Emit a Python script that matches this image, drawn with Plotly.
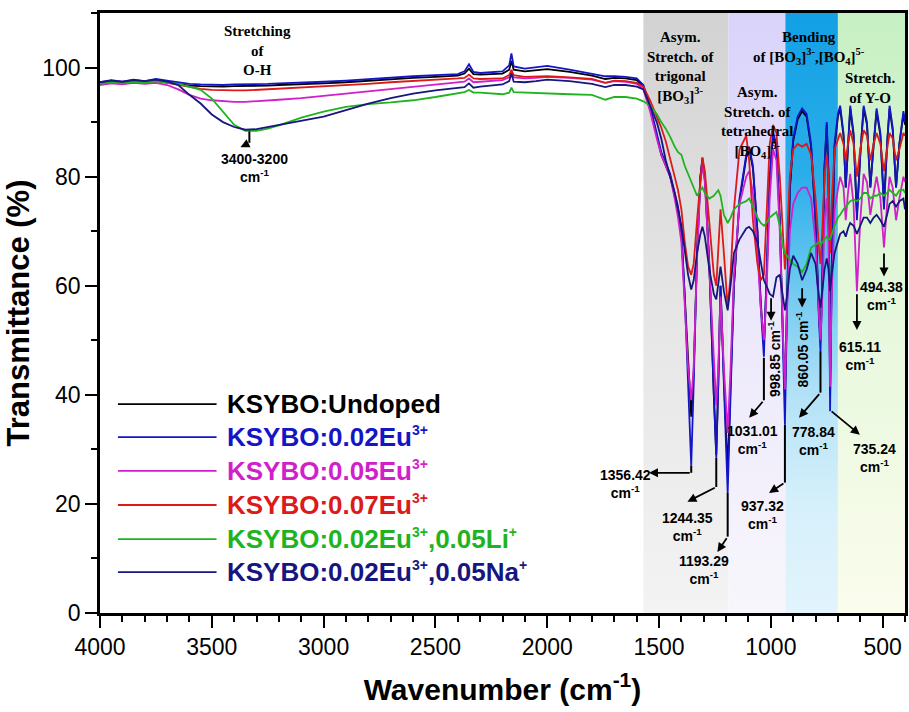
import plotly.graph_objects as go

# Wavenumber grid (cm^-1): OH / overtone region, then the borate fingerprint region
wn_high = [4000, 3950, 3900, 3850, 3800, 3750, 3700, 3650, 3600, 3550,
           3500, 3450, 3400, 3350, 3300, 3250, 3200, 3100, 3000, 2900,
           2800, 2700, 2600, 2500, 2400, 2370, 2350, 2330, 2300, 2200,
           2170, 2160, 2150, 2100, 2050, 2000, 1900, 1800, 1740, 1700,
           1650, 1600]
wn_fp = [1570, 1540, 1510, 1490, 1470, 1450, 1430, 1415, 1400, 1385,
         1370, 1356, 1345, 1330, 1315, 1306, 1295, 1275, 1255, 1244,
         1235, 1225, 1210, 1193, 1180, 1165, 1140, 1110, 1097, 1080,
         1060, 1045, 1031, 1020, 1005, 990, 975, 960, 945, 937,
         928, 915, 900, 880, 860, 840, 820, 800, 785, 778,
         770, 760, 750, 742, 735, 728, 715, 700, 690, 675,
         665, 655, 645, 630, 615, 600, 585, 570, 555, 540,
         527, 510, 494, 480, 469, 455, 440, 425, 407, 400]
wavenumber = wn_high + wn_fp

# Transmittance (%) for each sample
undoped = [97.0, 97.4, 97.1, 97.5, 97.2, 97.6, 97.3, 97.0, 96.7, 96.6,
           96.5, 96.5, 96.6, 96.6, 96.6, 96.7, 96.8, 96.9, 97.1, 97.3,
           97.6, 97.8, 98.1, 98.3, 98.5, 98.9, 99.8, 98.8, 98.7, 98.9,
           99.6, 101.2, 99.6, 99.3, 99.5, 99.7, 99.2, 98.5, 97.9, 98.1,
           98.0, 97.7] + \
          [96.5, 92.5, 87.5, 84.0, 82.0, 80.0, 76.5, 74.0, 69.5, 58.0,
           45.0, 36.0, 44.0, 66.0, 80.0, 83.0, 79.5, 63.5, 40.0, 29.0,
           42.0, 60.0, 43.0, 26.0, 42.0, 60.0, 75.5, 83.5, 85.0, 81.5,
           70.0, 57.0, 49.0, 60.0, 79.5, 87.5, 85.5, 72.0, 50.0, 40.0,
           56.0, 77.5, 86.5, 90.5, 92.0, 91.0, 85.5, 72.0, 55.0, 50.0,
           61.0, 81.5, 89.5, 80.0, 40.0, 63.0, 85.5, 91.0, 92.5, 87.5,
           78.0, 86.0, 92.5, 87.5, 73.0, 84.0, 92.5, 89.5, 78.0, 86.0,
           92.0, 87.5, 75.0, 86.0, 92.5, 88.5, 78.0, 86.0, 91.5, 89.5]

eu002 = [97.3, 97.7, 97.4, 97.8, 97.5, 97.9, 97.6, 97.3, 97.0, 96.9,
         96.8, 96.8, 96.9, 96.9, 96.9, 97.0, 97.1, 97.2, 97.4, 97.6,
         97.9, 98.1, 98.4, 98.6, 98.8, 99.3, 100.6, 99.2, 99.0, 99.3,
         100.4, 102.6, 100.2, 99.8, 100.1, 100.3, 99.6, 98.9, 98.4, 98.4,
         98.3, 98.0] + \
        [96.8, 93.0, 88.0, 84.5, 82.5, 80.5, 77.0, 74.5, 70.0, 58.0,
         42.0, 27.0, 42.0, 66.0, 80.0, 83.5, 80.0, 64.0, 40.0, 28.5,
         42.0, 60.0, 42.0, 22.0, 40.0, 60.0, 76.0, 84.0, 85.5, 82.0,
         70.0, 56.0, 47.0, 60.0, 80.0, 88.0, 86.0, 72.0, 48.0, 34.5,
         55.0, 78.0, 87.0, 91.0, 92.5, 91.5, 86.0, 72.0, 54.0, 48.0,
         60.0, 82.0, 90.0, 80.0, 37.0, 62.0, 86.0, 91.5, 93.0, 88.0,
         78.0, 86.0, 93.0, 88.0, 72.0, 84.0, 93.0, 90.0, 78.0, 86.0,
         92.5, 88.0, 74.0, 86.0, 93.0, 89.0, 78.0, 86.0, 92.0, 90.0]

eu005 = [96.8, 97.1, 96.9, 97.2, 97.0, 97.2, 96.8, 96.0, 95.0, 94.3,
         94.0, 93.8, 93.7, 93.7, 93.8, 93.9, 94.1, 94.4, 94.8, 95.3,
         95.7, 96.1, 96.5, 96.9, 97.3, 97.4, 98.0, 97.3, 97.4, 97.7,
         98.2, 99.1, 98.2, 98.0, 98.1, 98.3, 98.1, 97.8, 97.2, 97.5,
         97.4, 97.0] + \
        [96.0, 92.0, 87.0, 84.0, 82.0, 80.0, 76.0, 72.5, 68.0, 57.0,
         45.0, 39.0, 45.0, 65.0, 79.0, 82.0, 79.0, 63.0, 45.0, 38.0,
         45.0, 58.0, 45.0, 33.0, 45.0, 62.0, 75.0, 80.0, 81.0, 77.0,
         66.0, 56.0, 50.0, 58.0, 76.0, 85.0, 83.0, 70.0, 50.0, 41.0,
         55.0, 70.0, 75.0, 77.0, 78.0, 78.0, 76.0, 68.0, 55.0, 50.0,
         58.0, 72.0, 76.0, 68.0, 41.5, 58.0, 74.0, 78.0, 80.0, 78.0,
         72.0, 77.0, 80.5, 75.0, 59.0, 72.0, 80.5, 79.0, 73.0, 77.0,
         80.0, 76.0, 67.0, 75.0, 80.0, 78.0, 72.0, 76.0, 80.0, 79.0]

eu007 = [97.1, 97.4, 97.2, 97.5, 97.3, 97.5, 97.2, 96.8, 96.4, 96.1,
         95.9, 95.8, 95.8, 95.8, 95.9, 96.0, 96.1, 96.4, 96.6, 96.8,
         97.0, 97.3, 97.5, 97.8, 98.0, 98.1, 98.7, 98.0, 97.9, 98.0,
         98.6, 99.6, 98.6, 98.3, 98.3, 98.4, 98.2, 97.9, 97.2, 97.6,
         97.5, 97.2] + \
        [96.5, 94.0, 91.0, 89.0, 86.5, 83.5, 80.0, 77.5, 74.0, 68.0,
         63.5, 62.0, 64.0, 72.0, 80.0, 83.5, 81.0, 72.0, 62.0, 60.0,
         66.0, 74.0, 66.0, 56.0, 62.0, 74.0, 85.0, 87.5, 83.0, 72.0,
         64.0, 61.0, 62.0, 72.0, 86.0, 89.5, 88.0, 80.0, 68.0, 63.0,
         68.0, 80.0, 85.0, 86.0, 85.5, 86.0, 84.0, 76.0, 67.0, 64.0,
         70.0, 80.0, 84.0, 80.0, 66.0, 75.0, 85.0, 87.0, 88.0, 86.0,
         83.0, 86.0, 88.5, 86.0, 80.0, 85.0, 88.5, 87.5, 83.0, 86.0,
         88.0, 86.0, 81.0, 85.0, 88.0, 87.0, 83.0, 85.0, 88.0, 87.5]

eu002_li = [97.0, 97.3, 97.1, 97.4, 97.2, 97.5, 97.2, 97.0, 96.5, 95.9,
            94.3, 91.8, 89.5, 88.4, 88.4, 88.8, 89.4, 90.8, 91.9, 92.8,
            93.3, 93.6, 94.0, 94.6, 95.2, 95.5, 95.9, 95.4, 95.4, 95.1,
            95.4, 96.3, 95.5, 95.4, 95.3, 95.3, 95.1, 95.0, 94.1, 94.6,
            94.6, 94.3] + \
           [93.8, 93.0, 91.5, 90.0, 88.8, 87.3, 85.5, 84.5, 84.0, 82.0,
            80.5, 79.0, 78.0, 76.5, 77.5, 78.0, 77.0, 76.0, 76.5, 77.0,
            77.5, 76.5, 73.0, 71.5, 72.5, 74.0, 75.0, 75.5, 76.0, 74.5,
            72.5, 71.5, 71.0, 71.5, 72.5, 73.0, 73.5, 71.0, 67.0, 66.0,
            65.5, 65.0, 64.0, 63.5, 62.5, 64.0, 67.0, 67.5, 68.0, 67.5,
            68.0, 68.5, 69.0, 68.5, 68.5, 69.5, 71.0, 72.5, 73.0, 74.0,
            74.5, 75.0, 75.5, 75.8, 75.5, 76.0, 77.0, 77.0, 76.0, 76.5,
            76.5, 77.0, 76.5, 77.0, 77.6, 77.0, 76.5, 77.5, 77.6, 77.0]

eu002_na = [97.3, 97.6, 97.4, 97.7, 97.5, 97.8, 97.4, 96.8, 95.0, 93.4,
            91.4, 90.0, 89.1, 88.6, 88.7, 89.1, 89.5, 90.2, 91.0, 92.2,
            93.4, 94.4, 95.2, 95.8, 96.2, 96.4, 97.1, 96.3, 96.5, 96.9,
            97.5, 98.9, 97.4, 97.3, 97.5, 97.8, 97.5, 97.0, 96.4, 96.8,
            96.8, 96.5] + \
           [96.0, 93.0, 90.0, 87.0, 83.0, 80.0, 77.0, 74.0, 71.0, 66.5,
            62.0, 59.3, 61.0, 66.0, 69.5, 70.8, 69.0, 63.0, 58.5, 57.5,
            60.0, 63.5, 59.0, 55.5, 60.0, 66.0, 68.5, 70.5, 70.8, 70.0,
            68.0, 64.0, 61.0, 60.0, 58.5, 58.0, 61.5, 62.0, 58.0, 55.5,
            58.0, 63.0, 65.5, 64.0, 61.0, 63.0, 66.0, 64.0, 58.0, 56.0,
            59.0, 63.0, 65.0, 63.0, 59.0, 62.0, 66.0, 68.0, 69.5, 70.0,
            69.0, 70.5, 71.5, 71.0, 69.5, 71.0, 72.5, 72.5, 71.5, 72.5,
            73.0, 72.0, 70.8, 73.0, 75.0, 75.5, 74.5, 75.5, 76.0, 74.0]

series_values = [undoped, eu002, eu005, eu007, eu002_li, eu002_na]


def small_sup(s):
    return '<sup><span style="font-size:14px">' + s + '</span></sup>'


series_names = ["KSYBO:Undoped",
                "KSYBO:0.02Eu" + small_sup("3+"),
                "KSYBO:0.05Eu" + small_sup("3+"),
                "KSYBO:0.07Eu" + small_sup("3+"),
                "KSYBO:0.02Eu" + small_sup("3+") + ",0.05Li" + small_sup("+"),
                "KSYBO:0.02Eu" + small_sup("3+") + ",0.05Na" + small_sup("+")]
series_colors = ["#000000", "#1515c8", "#d21fcc", "#dc1a1a", "#1fb41f", "#16167e"]

x_tick_vals = [4000, 3500, 3000, 2500, 2000, 1500, 1000, 500]
y_tick_vals = [0, 20, 40, 60, 80, 100]

# Vibrational-mode regions: (high edge, low edge) and colorscale bottom->top
band_edges = [(1570, 1190), (1190, 935), (935, 700), (700, 400)]
band_scales = [
    [[0, "#f3f3f3"], [0.5, "#e6e6e6"], [1, "#d2d2d2"]],
    [[0, "#f8f6fc"], [0.5, "#ece8fb"], [1, "#d9d3fa"]],
    [[0, "#e2f4fc"], [0.18, "#d6f0fb"], [0.36, "#b4e2f7"], [0.55, "#6cc8f0"], [0.73, "#2aaeea"], [1, "#12a0e4"]],
    [[0, "#fbfced"], [0.5, "#e6f8dc"], [1, "#c6f0c3"]],
]
band_titles = ["Asym.<br>Stretch. of<br>trigonal<br>[BO<sub>3</sub>]<sup>3-</sup>",
               "Asym.<br>Stretch. of<br>tetrahedral<br>[BO<sub>4</sub>]<sup>5-</sup>",
               "Bending<br>of [BO<sub>3</sub>]<sup>3-</sup>,[BO<sub>4</sub>]<sup>5-</sup>",
               "Stretch.<br>of Y-O",
               "Stretching<br>of<br>O-H"]
band_title_pos = [(1404, 100.0), (1061, 90.0), (830, 103.5), (558, 96.3), (3296, 103.2)]

Y_TOP = 110

fig = go.Figure()

for (hi, lo), scale in zip(band_edges, band_scales):
    fig.add_trace(go.Scatter(
        x=[hi, lo, lo, hi, hi], y=[0, 0, Y_TOP, Y_TOP, 0],
        mode="none", fill="toself",
        fillgradient=dict(type="vertical", colorscale=scale, start=0, stop=Y_TOP),
        hoverinfo="skip", showlegend=False))

for name, vals, col in zip(series_names, series_values, series_colors):
    fig.add_trace(go.Scatter(x=wavenumber, y=vals, mode="lines", name=name,
                             line=dict(color=col, width=1.8), showlegend=False))

annotations = []
shapes = []

serif = dict(family="Liberation Serif", size=15, color="black", weight="bold")
for txt, (bx, by) in zip(band_titles, band_title_pos):
    annotations.append(dict(x=bx, y=by, xref="x", yref="y", text=txt, showarrow=False,
                            font=serif, align="center"))

sans = dict(family="Liberation Sans", size=14, color="black", weight="bold")
# peak labels: text, position, rotation
peak_labels = [
    ("1356.42<br>cm<sup>-1</sup>", 1652, 23.6, 0),
    ("1244.35<br>cm<sup>-1</sup>", 1373, 15.8, 0),
    ("1193.29<br>cm<sup>-1</sup>", 1297, 7.9, 0),
    ("1031.01<br>cm<sup>-1</sup>", 1083, 31.7, 0),
    ("998.85 cm<sup>-1</sup>", 985, 46.6, -90),
    ("860.05 cm<sup>-1</sup>", 861, 48.3, -90),
    ("937.32<br>cm<sup>-1</sup>", 1039, 18.0, 0),
    ("778.84<br>cm<sup>-1</sup>", 807, 31.6, 0),
    ("735.24<br>cm<sup>-1</sup>", 536, 28.4, 0),
    ("615.11<br>cm<sup>-1</sup>", 602, 47.2, 0),
    ("494.38<br>cm<sup>-1</sup>", 504, 58.2, 0),
    ("3400-3200<br>cm<sup>-1</sup>", 3310, 81.6, 0),
]
for txt, tx, ty, ang in peak_labels:
    annotations.append(dict(x=tx, y=ty, xref="x", yref="y", text=txt, showarrow=False,
                            font=sans, align="center", textangle=ang))

# leader lines: vertical drop below the band minimum (x, y_from, y_to)
leader_drops = [(1356, 27.0, 25.7), (1244, 28.5, 23.1), (1193, 22.0, 14.0),
                (1031, 46.8, 39.0), (937, 34.5, 23.9), (778, 48.0, 40.4), (3332, 88.3, 86.2)]
for lx, ly0, ly1 in leader_drops:
    shapes.append(dict(type="line", xref="x", yref="y", x0=lx, x1=lx, y0=ly0, y1=ly1,
                       line=dict(color="black", width=2)))

# arrows: (tail x, tail y, head x, head y)
leader_arrows = [(1356, 25.7, 1545, 25.7), (1244, 23.1, 1373, 20.4), (1193, 14.0, 1239, 11.2),
                 (1031, 39.0, 1097, 35.8), (999, 58.0, 999, 53.6), (860, 59.8, 860, 56.0),
                 (937, 23.9, 1008, 22.0), (778, 40.4, 874, 35.8), (735, 37.2, 602, 32.7),
                 (615, 58.7, 615, 51.9), (494, 66.2, 494, 61.7), (3332, 86.2, 3372, 85.4)]
for ax_, ay_, hx, hy in leader_arrows:
    annotations.append(dict(x=hx, y=hy, ax=ax_, ay=ay_, xref="x", yref="y", axref="x", ayref="y",
                            text="", showarrow=True, arrowhead=2, arrowsize=1, arrowwidth=1.8,
                            arrowcolor="black", standoff=0, startstandoff=0))

# legend: key line plus coloured label for each sample
legend_rows = [0.348, 0.293, 0.237, 0.180, 0.123, 0.068]
for name, col, ly in zip(series_names, series_colors, legend_rows):
    shapes.append(dict(type="line", xref="paper", yref="paper", x0=0.0223, x1=0.1448, y0=ly, y1=ly,
                       line=dict(color=col, width=1.8)))
    annotations.append(dict(x=0.1559, y=ly, xref="paper", yref="paper", text=name, showarrow=False,
                            xanchor="left", yanchor="middle",
                            font=dict(family="Liberation Sans", size=26, color=col, weight="bold")))

axis_common = dict(showline=True, linewidth=2.5, linecolor="black", mirror=True,
                   ticks="outside", ticklen=12, tickwidth=2, tickcolor="black",
                   showgrid=False, zeroline=False,
                   tickfont=dict(family="Liberation Sans", size=23, color="black"))

fig.update_layout(
    width=909, height=712,
    margin=dict(l=100, r=1, t=13, b=99),
    paper_bgcolor="white", plot_bgcolor="white",
    showlegend=False,
    xaxis=dict(range=[4000, 400], tickvals=x_tick_vals,
               minor=dict(dtick=100, tick0=0, ticks="outside", ticklen=6, tickwidth=2, tickcolor="black"),
               title=dict(text="Wavenumber (cm<sup>-1</sup>)", standoff=20,
                          font=dict(family="Liberation Sans", size=30, color="black", weight="bold")),
               **axis_common),
    yaxis=dict(range=[0, Y_TOP], tickvals=y_tick_vals,
               minor=dict(dtick=10, tick0=0, ticks="outside", ticklen=6, tickwidth=2, tickcolor="black"),
               title=dict(text="Transmittance (%)", standoff=4,
                          font=dict(family="Liberation Sans", size=31, color="black", weight="bold")),
               **axis_common),
    annotations=annotations,
    shapes=shapes,
)

fig.write_html("out.html")
